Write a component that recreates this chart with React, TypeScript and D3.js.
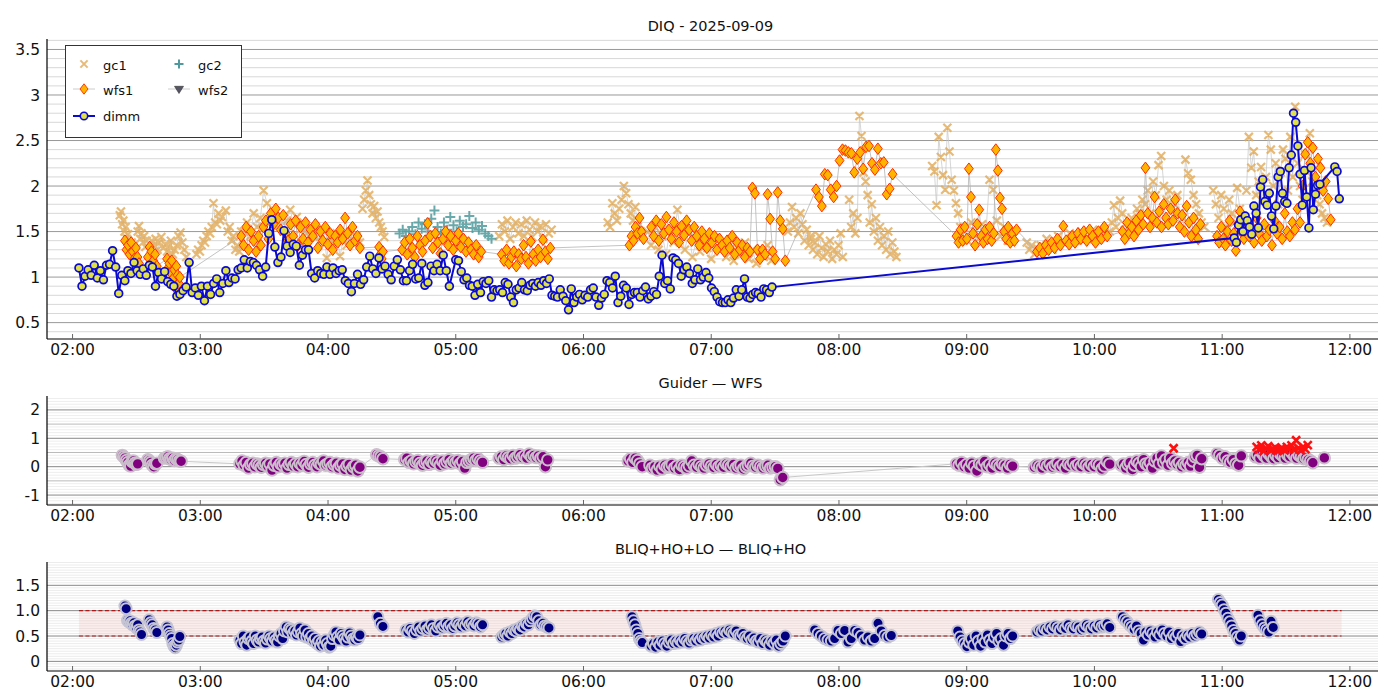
import * as d3 from "d3";

type Seg = [number, number, number[]];
type Pt = { t: number; v: number };

// time axis (decimal hours) and tick labels
const hourTicks = [2, 3, 4, 5, 6, 7, 8, 9, 10, 11, 12];
const hourLabels = ["02:00", "03:00", "04:00", "05:00", "06:00", "07:00", "08:00", "09:00", "10:00", "11:00", "12:00"];

const diqTicks = [0.5, 1, 1.5, 2, 2.5, 3, 3.5];
const diqLabels = ["0.5", "1", "1.5", "2", "2.5", "3", "3.5"];
const guiderTicks = [-1, 0, 1, 2];
const guiderLabels = ["-1", "0", "1", "2"];
const bliqTicks = [0, 0.5, 1, 1.5];
const bliqLabels = ["0", "0.5", "1.0", "1.5"];

// [start hour, end hour, values] — samples evenly spaced inside each run
const dimmSegments: Seg[] = [
  [2.05, 4.95, [1.10,0.90,1.01,1.08,1.02,1.13,0.99,1.07,0.97,1.13,1.14,1.29,1.11,0.82,1.02,0.96,1.07,1.04,1.16,1.07,1.03,1.09,1.02,1.13,1.11,0.90,1.05,0.98,1.06,0.95,0.92,0.90,0.79,0.81,0.85,0.89,1.16,0.83,0.88,0.80,0.90,0.74,0.90,0.81,0.93,0.98,0.83,0.93,1.07,0.94,0.99,0.98,1.08,1.10,1.19,1.10,1.17,1.16,1.13,1.08,1.01,1.11,1.48,1.63,1.33,1.16,1.22,1.51,1.34,1.27,1.36,1.34,1.13,1.24,1.30,1.30,1.04,0.99,1.07,1.04,1.03,1.11,1.03,1.10,1.04,1.07,1.08,0.96,0.93,0.84,0.93,1.03,0.92,0.97,1.11,1.23,1.09,1.04,1.21,1.09,1.12,1.03,0.97,1.12,1.19,1.08,0.96,0.96,1.07,1.14,0.98,0.99,1.15,0.91,0.94,1.12,1.07,1.14,1.07,1.24,1.07,0.90]],
  [5.0, 7.476, [1.19,1.18,1.06,0.97,0.99,0.91,0.90,0.80,0.92,0.83,0.95,0.93,0.96,0.78,0.86,0.85,0.86,0.83,0.94,0.92,0.78,0.72,0.86,0.88,0.94,0.86,0.85,0.91,0.93,0.90,0.94,0.91,0.96,0.93,0.98,0.80,0.79,0.78,0.86,0.79,0.74,0.64,0.87,0.72,0.78,0.81,0.75,0.80,0.78,0.86,0.88,0.78,0.69,0.77,0.81,0.96,0.94,0.88,1.01,0.72,0.79,0.91,0.88,0.70,0.81,0.83,0.83,0.78,0.85,0.89,0.76,0.79,0.84,0.81,1.01,1.24,0.93,0.96,0.87,1.21,1.19,1.15,1.01,1.08,1.11,1.04,0.93,0.97,1.09,0.97,1.00,1.05,0.99,0.88,0.84,0.78,0.73,0.72,0.72,0.75,0.72,0.77,0.86,0.79,0.86,0.98,0.78,0.77,0.81,0.83,0.82,0.78,0.87,0.86,0.83,0.89]],
  [11.094, 11.765, [1.43,1.38,1.57,1.63,1.50,1.67,1.62,1.55,1.47,1.78,1.70,1.54,1.99,2.07,1.83,1.79,1.92,1.67,1.53,1.78,2.10,2.16,1.92,1.83,1.81,2.20,2.34,2.80,2.70,2.44,2.13,1.79,2.17,1.88,1.54,2.20,1.74,1.91,2.01,2.02]],
  [11.882, 11.917, [2.21,2.16,1.86]],
];

const gc1Segments: Seg[] = [
  [2.37, 2.49, [1.68,1.72,1.58,1.62,1.50,1.55,1.42,1.47,1.35,1.30,1.38,1.25,1.32,1.22]],
  [2.51, 2.58, [1.50,1.56,1.42,1.48,1.38,1.45,1.33,1.40]],
  [2.62, 2.89, [1.40,1.35,1.42,1.30,1.38,1.44,1.32,1.36,1.28,1.34,1.40,1.25,1.30,1.35,1.45,1.49,1.38,1.30,1.22]],
  [2.97, 3.17, [1.25,1.30,1.28,1.35,1.40,1.38,1.45,1.50,1.48,1.55,1.81,1.60,1.58,1.70,1.62,1.66]],
  [3.20, 3.32, [1.73,1.50,1.55,1.40,1.45,1.30,1.35,1.28,1.50]],
  [3.34, 4.25, [1.50,1.60,1.45,1.70,1.55,1.65,1.95,1.81,1.60,1.72,1.55,1.68,1.50,1.62,1.74,1.58,1.66,1.52,1.60,1.48,1.55,1.45,1.52,1.40,1.50,1.21,1.45,1.38,1.48,1.23,1.42,1.35,1.50,1.40,1.45,1.38]],
  [4.27, 4.44, [1.75,1.85,1.95,2.06,1.90,1.80,1.70,1.78,1.65,1.72,1.60,1.55,1.50,1.44]],
  [5.34, 5.75, [1.45,1.58,1.50,1.62,1.42,1.55,1.60,1.48,1.58,1.45,1.62,1.52,1.44,1.60,1.50,1.56,1.42,1.58,1.48,1.52]],
  [6.19, 6.46, [1.60,1.55,1.81,1.70,1.62,1.75,1.85,2.00,1.92,1.80,1.70,1.62,1.77,1.55,1.50,1.45]],
  [6.50, 7.47, [1.50,1.35,1.55,1.30,1.45,1.25,1.52,1.38,1.74,1.45,1.30,1.50,1.22,1.40,1.28,1.45,1.32,1.20,1.42,1.30,1.38,1.22,1.35,1.18,1.32,1.25,1.38,1.20,1.30,1.15,1.28,1.22,1.35,1.18]],
  [7.60, 7.78, [1.50,1.60,1.77,1.55,1.65,1.48,1.70,1.58,1.40,1.52,1.35,1.45]],
  [7.78, 8.03, [1.42,1.30,1.38,1.25,1.45,1.32,1.22,1.36,1.28,1.40,1.20,1.30,1.25,1.35,1.48,1.22]],
  [8.08, 8.45, [1.85,1.55,1.70,1.48,1.65,2.77,2.55,2.15,2.05,1.90,1.60,1.80,1.50,1.65,1.40,1.55,1.35,1.45,1.30,1.50,1.25,1.38,1.28,1.22]],
  [8.73, 8.95, [2.22,2.16,1.79,2.54,2.32,2.12,1.96,2.64,2.38,2.07,1.95,1.81,1.70,1.55]],
  [8.95, 9.35, [1.45,1.55,1.40,1.60,1.50,1.42,1.58,1.48,2.07,1.96,1.62,1.45,1.55,1.40,1.50]],
  [9.47, 9.57, [1.38,1.30,1.35,1.25,1.32,1.28]],
  [9.58, 10.08, [1.35,1.42,1.30,1.45,1.38,1.48,1.40,1.50,1.42,1.52,1.45,1.50]],
  [10.12, 10.25, [1.50,1.60,1.79,1.55,1.65,1.84,1.70,1.58,1.48]],
  [10.27, 10.86, [1.55,1.65,1.60,1.75,1.70,1.85,1.80,1.95,1.70,2.05,1.90,2.23,2.33,2.00,1.85,1.95,1.75,1.80,1.90,1.70,1.65,2.29,2.14,2.07,1.90,1.80,1.70,1.60,1.55]],
  [10.93, 11.18, [1.95,1.80,1.65,1.90,1.75,1.55,1.85,1.70,1.60,1.98,1.75,1.50,1.45]],
  [11.19, 11.82, [1.95,2.54,2.20,2.38,1.90,2.05,2.21,1.85,2.10,2.56,2.40,2.00,2.25,1.80,2.15,2.40,2.30,1.95,2.54,2.10,2.87,2.25,2.00,1.85,2.35,2.15,2.58,2.05,1.95,1.90,1.80,1.70,1.65,1.60]],
];

const gc2Segments: Seg[] = [
  [4.56, 5.28, [1.48,1.52,1.45,1.50,1.55,1.47,1.60,1.53,1.58,1.50,1.64,1.73,1.55,1.48,1.60,1.52,1.66,1.57,1.50,1.62,1.55,1.58,1.67,1.54,1.60,1.52,1.56,1.48,1.45,1.42]],
];

const wfs1Segments: Seg[] = [
  [2.41, 2.52, [1.40,1.30,1.35,1.25,1.38,1.28,1.20,1.32,1.22,1.15]],
  [2.59, 2.66, [1.22,1.33,1.28,1.18,1.25,1.12]],
  [2.74, 2.84, [1.20,1.10,1.15,1.05,1.18,0.98,1.08,0.88,1.12,1.02,0.93,1.00]],
  [3.32, 4.25, [1.45,1.35,1.55,1.30,1.50,1.40,1.28,1.45,1.35,1.55,1.62,1.42,1.70,1.58,1.75,1.65,1.52,1.68,1.48,1.40,1.58,1.45,1.62,1.35,1.55,1.42,1.60,1.38,1.52,1.45,1.58,1.32,1.50,1.40,1.55,1.36,1.48,1.30,1.45,1.38,1.52,1.42,1.65,1.48,1.35,1.55,1.40,1.45,1.32]],
  [4.40, 4.43, [1.33,1.25,1.20,1.28]],
  [4.58, 5.20, [1.30,1.38,1.25,1.42,1.32,1.22,1.45,1.35,1.28,1.40,1.59,1.45,1.32,1.48,1.38,1.26,1.42,1.50,1.35,1.45,1.30,1.40,1.48,1.33,1.42,1.28,1.38,1.30,1.25,1.35,1.22,1.28]],
  [5.36, 5.74, [1.25,1.18,1.30,1.15,1.22,1.28,1.12,1.25,1.20,1.35,1.22,1.15,1.39,1.25,1.18,1.30,1.22,1.41,1.28,1.20,1.32]],
  [6.36, 6.47, [1.35,1.45,1.40,1.55,1.48,1.65,1.50,1.42]],
  [6.53, 7.58, [1.55,1.45,1.62,1.40,1.58,1.48,1.66,1.52,1.42,1.60,1.50,1.38,1.56,1.46,1.62,1.52,1.40,1.55,1.45,1.35,1.50,1.42,1.32,1.48,1.38,1.45,1.30,1.42,1.35,1.28,1.40,1.32,1.45,1.25,1.38,1.30,1.35,1.22,1.32,1.28,1.98,1.92,1.30,1.20,1.30,1.25,1.91,1.64,1.28,1.20,1.93,1.62,1.53,1.18]],
  [7.82, 8.42, [1.96,1.88,1.78,2.13,2.12,1.96,1.88,2.00,2.28,2.40,2.39,2.37,2.36,2.15,2.30,2.37,2.19,2.43,2.44,2.25,2.18,2.41,2.25,2.26,1.91,1.97,2.13]],
  [8.92, 9.39, [1.45,1.38,1.52,1.40,1.55,1.42,2.19,1.88,1.48,1.35,1.58,1.74,1.45,1.38,1.52,1.42,1.55,1.40,1.48,2.40,2.17,1.87,1.75,1.50,1.42,1.55,1.38,1.48,1.40,1.52]],
  [9.55, 10.10, [1.28,1.32,1.26,1.35,1.30,1.38,1.32,1.42,1.35,1.56,1.40,1.36,1.45,1.38,1.48,1.42,1.50,1.40,1.52,1.45,1.38,1.50,1.42,1.55,1.45]],
  [10.22, 10.83, [1.50,1.42,1.60,1.48,1.55,1.45,1.62,1.52,1.68,1.58,2.20,1.70,1.55,1.65,1.88,1.60,1.72,1.55,1.80,1.65,1.58,1.75,1.62,1.85,1.70,1.55,1.68,1.50,1.78,1.60,1.45,1.65,1.52,1.42,1.58]],
  [10.96, 11.14, [1.45,1.38,1.55,1.42,1.35,1.50,1.62,1.40,1.48,1.29,1.58,1.72]],
  [11.15, 11.85, [1.50,1.42,1.60,1.45,1.55,1.38,1.65,1.48,1.40,1.58,1.45,1.52,1.35,1.62,1.48,1.55,1.42,1.70,1.50,1.45,1.60,1.52,1.75,1.60,2.00,2.35,2.48,2.25,2.42,2.10,2.30,2.20,1.95,2.05,1.86,1.63]],
];

const guiderSegments: Seg[] = [
  [2.39, 2.51, [0.40,0.35,0.30,0.22,0.15,0.05,0.02,0.18,0.20,0.12,0.08,0.10]],
  [2.59, 2.66, [0.25,0.20,0.15,0.05,0.00,0.10,0.12]],
  [2.72, 2.85, [0.30,0.32,0.35,0.28,0.25,0.30,0.22,0.28,0.25,0.20,0.19]],
  [3.31, 4.25, [0.10,0.20,0.05,0.15,-0.05,0.08,0.12,0.00,0.10,0.05,-0.02,0.08,0.12,0.02,0.10,-0.12,0.05,0.15,0.00,0.10,0.05,0.12,-0.05,0.08,0.15,0.02,0.10,0.00,0.12,0.05,0.18,0.08,-0.02,0.10,0.15,0.05,0.00,0.12,0.08,0.20,0.05,0.10,0.15,0.00,0.08,0.12,-0.05,0.05,0.10,-0.10,0.02,0.08,-0.12,0.00,0.05,-0.15,-0.02]],
  [4.38, 4.43, [0.42,0.38,0.35,0.28]],
  [4.60, 5.21, [0.25,0.30,0.15,0.20,0.10,0.18,0.22,0.12,0.05,0.15,0.20,0.08,0.18,0.12,0.22,0.15,0.05,0.20,0.10,0.18,0.25,0.12,0.20,0.15,0.22,0.10,0.18,-0.05,0.15,0.20,0.25,0.30,0.22,0.28,0.20,0.15]],
  [5.34, 5.72, [0.30,0.35,0.25,0.38,0.32,0.28,0.40,0.30,0.35,0.42,0.32,0.38,0.30,0.45,0.35,0.40,0.32,0.38,0.30,0.35,0.00,0.24]],
  [6.35, 6.46, [0.20,0.28,0.15,0.30,0.22,0.10,0.00]],
  [6.52, 7.56, [0.05,-0.05,0.00,-0.12,0.02,-0.08,0.05,-0.02,0.00,0.08,-0.05,0.02,-0.10,0.05,0.00,-0.05,0.03,0.20,0.05,-0.02,0.08,0.00,-0.05,0.05,0.10,0.02,-0.03,0.08,0.00,0.05,-0.02,0.10,0.05,0.00,0.08,-0.05,0.02,0.05,-0.08,0.00,0.05,0.12,0.02,-0.02,0.05,0.00,-0.05,0.02,0.05,-0.05,-0.02,0.00,-0.06,-0.46,-0.38]],
  [8.92, 9.36, [0.10,0.05,0.15,0.00,0.08,-0.05,0.12,0.02,-0.15,0.10,0.05,0.18,0.00,0.08,-0.05,0.12,0.05,0.00,0.10,0.05,-0.05,0.08,0.02]],
  [9.53, 10.12, [-0.02,0.05,0.00,-0.05,0.08,0.02,0.10,-0.02,0.05,0.12,0.00,0.08,-0.05,0.10,0.05,0.15,0.02,0.08,0.00,0.12,0.05,-0.02,0.08,0.00,0.10,0.05,-0.08,0.02,0.18,0.09]],
  [10.21, 10.84, [0.05,0.10,-0.05,0.08,0.15,-0.10,0.05,0.20,0.12,0.00,0.25,0.10,0.05,0.15,-0.05,0.20,0.30,0.10,0.38,0.15,0.25,0.05,0.30,0.12,0.20,0.08,0.15,0.00,0.10,0.05,0.15,0.02,0.20,0.35,0.40,-0.02,0.28]],
  [10.96, 11.15, [0.46,0.40,0.30,0.35,0.20,0.15,0.25,0.10,0.05,0.38]],
  [11.26, 11.71, [0.35,0.42,0.30,0.48,0.38,0.30,0.45,0.35,0.28,0.40,0.32,0.45,0.38,0.30,0.42,0.35,0.48,0.38,0.30,0.40,0.35,0.28,0.32,0.25,0.20,0.14]],
  [11.80, 11.80, [0.31]],
];

const guiderFlagSegments: Seg[] = [
  [10.62, 10.62, [0.65]],
  [11.27, 11.67, [0.70,0.60,0.75,0.55,0.65,0.72,0.58,0.62,0.68,0.55,0.60,0.65,0.58,0.70,0.62,0.75,0.60,0.93,0.65,0.58,0.70,0.62,0.76]],
];

const bliqSegments: Seg[] = [
  [2.41, 2.54, [1.09,1.04,0.81,0.78,0.80,0.75,0.72,0.76,0.70,0.66,0.72,0.62,0.58,0.53]],
  [2.60, 2.66, [0.82,0.76,0.72,0.65,0.62,0.57]],
  [2.74, 2.84, [0.68,0.62,0.55,0.50,0.45,0.35,0.30,0.27,0.32,0.38,0.42,0.49]],
  [3.31, 4.25, [0.42,0.35,0.50,0.38,0.32,0.45,0.48,0.40,0.35,0.50,0.42,0.38,0.45,0.48,0.40,0.36,0.44,0.50,0.45,0.40,0.48,0.42,0.38,0.50,0.55,0.45,0.60,0.68,0.58,0.65,0.62,0.55,0.60,0.52,0.58,0.66,0.55,0.50,0.62,0.48,0.55,0.45,0.50,0.40,0.45,0.35,0.40,0.30,0.38,0.32,0.42,0.35,0.28,0.30,0.45,0.52,0.58,0.48,0.42,0.55,0.50,0.45,0.40,0.48,0.56,0.50,0.44,0.42,0.48,0.45,0.52]],
  [4.39, 4.43, [0.88,0.75,0.69]],
  [4.61, 5.21, [0.62,0.58,0.65,0.60,0.55,0.62,0.68,0.60,0.65,0.70,0.62,0.66,0.72,0.65,0.60,0.68,0.72,0.66,0.70,0.75,0.68,0.72,0.65,0.70,0.76,0.72,0.68,0.74,0.70,0.78,0.72,0.75,0.70,0.76,0.74,0.68,0.72]],
  [5.36, 5.73, [0.48,0.52,0.55,0.50,0.58,0.55,0.62,0.60,0.65,0.62,0.70,0.68,0.75,0.72,0.80,0.85,0.90,0.88,0.80,0.72,0.75,0.70,0.68,0.66]],
  [6.38, 6.46, [0.88,0.80,0.72,0.62,0.55,0.45,0.40,0.37]],
  [6.53, 7.58, [0.30,0.35,0.28,0.38,0.32,0.40,0.35,0.30,0.38,0.42,0.35,0.40,0.36,0.42,0.38,0.45,0.40,0.36,0.42,0.45,0.40,0.46,0.42,0.48,0.45,0.50,0.46,0.52,0.48,0.55,0.50,0.58,0.55,0.60,0.56,0.62,0.58,0.55,0.60,0.52,0.50,0.55,0.48,0.45,0.50,0.42,0.46,0.40,0.38,0.45,0.35,0.42,0.38,0.32,0.40,0.36,0.42,0.30,0.35,0.40,0.50]],
  [7.81, 8.41, [0.62,0.55,0.50,0.45,0.42,0.40,0.45,0.61,0.55,0.61,0.38,0.45,0.61,0.57,0.50,0.42,0.48,0.40,0.45,0.75,0.60,0.51,0.48,0.51]],
  [8.93, 9.36, [0.60,0.48,0.40,0.35,0.29,0.38,0.45,0.32,0.50,0.40,0.30,0.45,0.38,0.52,0.42,0.35,0.48,0.55,0.40,0.45,0.32,0.50,0.55,0.45,0.50]],
  [9.55, 10.12, [0.58,0.62,0.60,0.65,0.62,0.68,0.64,0.70,0.66,0.62,0.68,0.65,0.72,0.66,0.64,0.70,0.68,0.62,0.66,0.72,0.68,0.64,0.70,0.66,0.72,0.68,0.70,0.74,0.67]],
  [10.22, 10.84, [0.88,0.82,0.78,0.72,0.68,0.63,0.70,0.60,0.55,0.42,0.58,0.52,0.60,0.55,0.48,0.58,0.52,0.62,0.55,0.50,0.58,0.45,0.52,0.48,0.55,0.39,0.50,0.45,0.52,0.48,0.55,0.50,0.54,0.58,0.54]],
  [10.97, 11.15, [1.22,1.16,1.11,1.02,0.95,0.85,0.78,0.70,0.61,0.55,0.48,0.42,0.50]],
  [11.28, 11.40, [0.91,0.80,0.72,0.66,0.62,0.58,0.79,0.67]],
];

const bliqBand = [0.5, 1.0];
const bliqBandHours = [2.05, 11.935];

function expand(segs: Seg[]): Pt[][] {
  return segs.map(([t0, t1, vals]) =>
    vals.map((v, i) => ({ t: vals.length > 1 ? t0 + ((t1 - t0) * i) / (vals.length - 1) : t0, v }))
  );
}

const W = 1400;
const H = 700;
const L = 47;
const R = 1378;
const FONT = "DejaVu Sans, sans-serif";

const x = d3.scaleLinear().domain([1.8, 12.22]).range([L, R]);

const xMark = (s: number) => `M${-s},${-s}L${s},${s}M${-s},${s}L${s},${-s}`;
const plusMark = (s: number) => `M${-s},0H${s}M0,${-s}V${s}`;
const diamond = (h: number, w: number) => `M0,${-h}L${w},0L0,${h}L${-w},0Z`;
const triDown = (s: number) => `M${-s},${-s * 0.6}L${s},${-s * 0.6}L0,${s}Z`;

function Panel({
  id, top, bottom, y, title, ticks, labels, grid, children,
}: {
  id: string; top: number; bottom: number; y: d3.ScaleLinear<number, number>;
  title: string; ticks: number[]; labels: string[];
  grid: { v: number; c: string }[]; children?: any;
}) {
  return (
    <g>
      <clipPath id={id}>
        <rect x={L} y={top} width={R - L} height={bottom - top} />
      </clipPath>
      {grid.map((g, i) => (
        <line key={i} x1={L} x2={R} y1={y(g.v)} y2={y(g.v)} stroke={g.c} strokeWidth={1} />
      ))}
      <g clipPath={`url(#${id})`}>{children}</g>
      <line x1={L} x2={L} y1={top} y2={bottom} stroke="#000" strokeWidth={1.2} />
      <line x1={L} x2={R} y1={bottom} y2={bottom} stroke="#000" strokeWidth={1.2} />
      {hourTicks.map((h, i) => (
        <g key={h}>
          <line x1={x(h)} x2={x(h)} y1={bottom} y2={bottom - 5} stroke="#666" />
          <text x={x(h)} y={bottom + 16} textAnchor="middle" fontSize={15.5} fontFamily={FONT} fill="#111">
            {hourLabels[i]}
          </text>
        </g>
      ))}
      {ticks.map((t, i) => (
        <text key={t} x={40} y={y(t)} dy="0.36em" textAnchor="end" fontSize={15.5} fontFamily={FONT} fill="#111">
          {labels[i]}
        </text>
      ))}
      <text x={(L + R) / 2 - 2} y={top - 8} textAnchor="middle" fontSize={14.5} fontFamily={FONT} fill="#111">
        {title}
      </text>
    </g>
  );
}

export default function App() {
  // top panel
  const yTop = d3.scaleLinear().domain([0.32, 3.615]).range([339, 39]);
  const topGrid = [
    ...d3.range(4, 37).filter((i) => i % 5 !== 0).map((i) => ({ v: i / 10, c: "#d8d8d8" })),
    ...diqTicks.map((v) => ({ v, c: "#999" })),
  ];
  const gc1 = expand(gc1Segments);
  const gc2 = expand(gc2Segments).flat();
  const wfs1 = expand(wfs1Segments).flat();
  const dimm = expand(dimmSegments).flat();
  const lineTop = d3.line<Pt>().x((d) => x(d.t)).y((d) => yTop(d.v));
  const gc1Marks = gc1.flat().map((d) => `M${x(d.t)},${yTop(d.v)}m-4,-4l8,8m-8,0l8,-8`).join("");
  const gc2Marks = gc2.map((d) => `M${x(d.t)},${yTop(d.v)}m-5,0h10m-5,-5v10`).join("");

  // guider panel
  const yMid = d3.scaleLinear().domain([-1.35, 2.49]).range([505, 396]);
  const midGrid = [
    ...d3.range(-13, 25).filter((i) => i % 5 !== 0).map((i) => ({ v: i / 10, c: "#eeeeee" })),
    ...[-0.5, 0.5, 1.5].map((v) => ({ v, c: "#bbb" })),
    ...guiderTicks.map((v) => ({ v, c: "#888" })),
  ];
  const guider = expand(guiderSegments).flat();
  const flags = expand(guiderFlagSegments).flat();
  const lineMid = d3.line<Pt>().x((d) => x(d.t)).y((d) => yMid(d.v));
  const flagMarks = flags.map((d) => `M${x(d.t)},${yMid(d.v)}m-4,-4l8,8m-8,0l8,-8`).join("");

  // bliq panel
  const yBot = d3.scaleLinear().domain([-0.19, 1.96]).range([671, 562]);
  const botGrid = [
    ...d3.range(-3, 40).filter((i) => i % 10 !== 0).map((i) => ({ v: i / 20, c: "#ececec" })),
    ...bliqTicks.map((v) => ({ v, c: "#888" })),
  ];
  const bliq = expand(bliqSegments).flat();

  return (
    <svg width={W} height={H} style={{ position: "absolute", left: 0, top: 0, background: "#fff" }}>
      <rect width={W} height={H} fill="#fff" />

      <Panel id="cTop" top={39} bottom={339} y={yTop} title="DIQ - 2025-09-09" ticks={diqTicks} labels={diqLabels} grid={topGrid}>
        {gc1.map((s, i) => (
          <path key={i} d={lineTop(s) || ""} fill="none" stroke="#c4c4c4" strokeWidth={0.7} />
        ))}
        <path d={gc1Marks} fill="none" stroke="#e1aa55" strokeOpacity={0.8} strokeWidth={2.2} />
        <path d={gc2Marks} fill="none" stroke="#4f9a9c" strokeOpacity={0.85} strokeWidth={2} />
        <path d={lineTop(wfs1) || ""} fill="none" stroke="#b4b4b4" strokeWidth={0.8} />
        {wfs1.map((d, i) => (
          <path key={i} d={diamond(5.8, 4.4)} transform={`translate(${x(d.t)},${yTop(d.v)})`} fill="#ffb400" stroke="#ff2a00" strokeWidth={1} />
        ))}
        <path d={lineTop(dimm) || ""} fill="none" stroke="#0a0ad0" strokeWidth={2} />
        {dimm.map((d, i) => (
          <circle key={i} cx={x(d.t)} cy={yTop(d.v)} r={3.9} fill="#dfe04a" stroke="#0a0ad0" strokeWidth={1.7} />
        ))}
      </Panel>

      {/* legend */}
      <g fontFamily={FONT} fontSize={13} fill="#111">
        <rect x={65.5} y={45.5} width={176} height={92} fill="#fff" stroke="#333" strokeWidth={1} />
        <path d={xMark(3.6)} transform="translate(84,64)" stroke="#e1aa55" strokeOpacity={0.8} strokeWidth={2} fill="none" />
        <text x={103} y={70}>gc1</text>
        <path d={plusMark(4.5)} transform="translate(179,64)" stroke="#4f9a9c" strokeWidth={2} fill="none" />
        <text x={198} y={70}>gc2</text>
        <line x1={73} x2={95} y1={89} y2={89} stroke="#ccc" strokeWidth={1} />
        <path d={diamond(5.2, 4)} transform="translate(84,89)" fill="#ffb400" stroke="#ff2a00" strokeWidth={0.9} />
        <text x={103} y={95}>wfs1</text>
        <line x1={168} x2={190} y1={89} y2={89} stroke="#ccc" strokeWidth={1} />
        <path d={triDown(4.5)} transform="translate(179,89)" fill="#555566" stroke="#333" strokeWidth={0.6} />
        <text x={198} y={95}>wfs2</text>
        <line x1={73} x2={95} y1={116} y2={116} stroke="#0a0ad0" strokeWidth={2} />
        <circle cx={84} cy={116} r={3.7} fill="#dfe04a" stroke="#0a0ad0" strokeWidth={1.6} />
        <text x={103} y={121}>dimm</text>
      </g>

      <Panel id="cMid" top={396} bottom={505} y={yMid} title="Guider — WFS" ticks={guiderTicks} labels={guiderLabels} grid={midGrid}>
        <path d={lineMid(guider) || ""} fill="none" stroke="#c8c8c8" strokeWidth={1} />
        {guider.map((d, i) => (
          <circle key={i} cx={x(d.t)} cy={yMid(d.v)} r={5.7} fill="#800080" stroke="#cbbecb" strokeWidth={2} />
        ))}
        <path d={lineMid(flags) || ""} fill="none" stroke="#d0d0d0" strokeWidth={0.8} />
        <path d={flagMarks} fill="none" stroke="#ff1010" strokeWidth={2.6} />
      </Panel>

      <Panel id="cBot" top={562} bottom={671} y={yBot} title="BLIQ+HO+LO — BLIQ+HO" ticks={bliqTicks} labels={bliqLabels} grid={botGrid}>
        <rect
          x={x(bliqBandHours[0])}
          width={x(bliqBandHours[1]) - x(bliqBandHours[0])}
          y={yBot(bliqBand[1])}
          height={yBot(bliqBand[0]) - yBot(bliqBand[1])}
          fill="#f4b8b8"
          opacity={0.25}
        />
        {bliqBand.map((v) => (
          <line key={v} x1={x(bliqBandHours[0])} x2={x(bliqBandHours[1])} y1={yBot(v)} y2={yBot(v)} stroke="#b01818" strokeWidth={1.2} strokeDasharray="4,2.5" />
        ))}
        {bliq.map((d, i) => (
          <circle key={i} cx={x(d.t)} cy={yBot(d.v)} r={5.5} fill="#000080" stroke="#c4c4d4" strokeWidth={2} />
        ))}
      </Panel>
    </svg>
  );
}
